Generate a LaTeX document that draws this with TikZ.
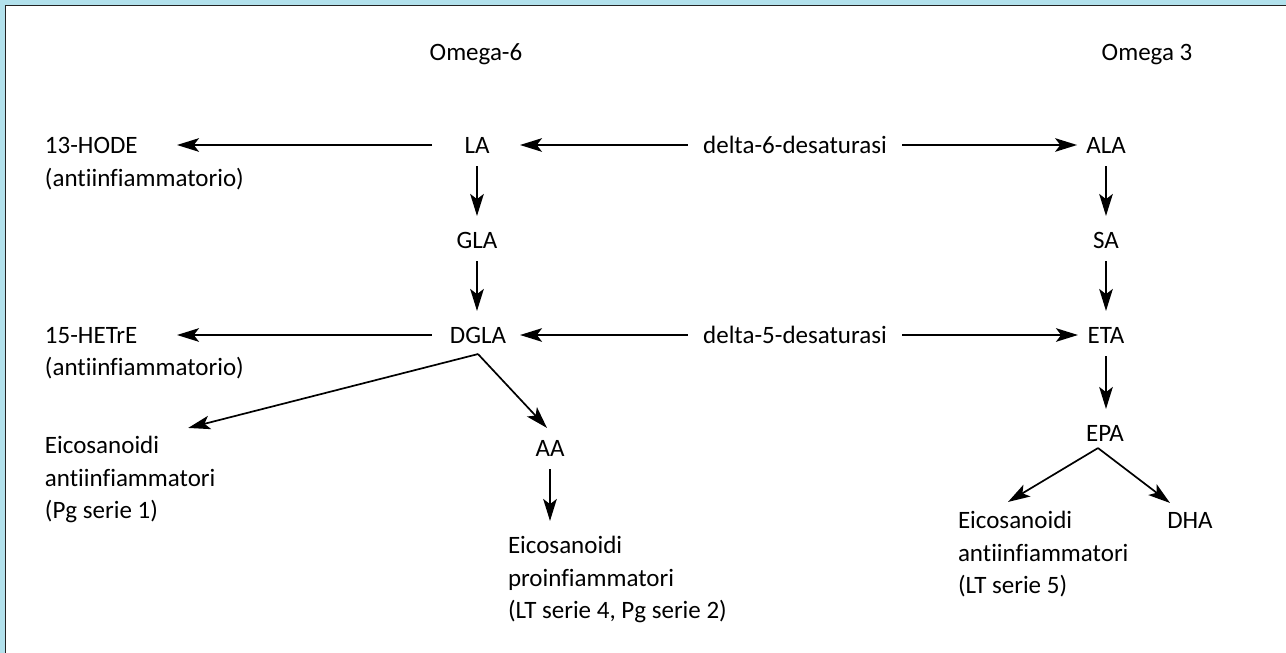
\documentclass[tikz,border=0pt]{standalone}
\usepackage{fontspec}
\setmainfont{Carlito}[Ligatures={NoCommon,NoRare,NoContextual}]
\usetikzlibrary{arrows.meta}
\definecolor{framebg}{RGB}{178,225,236}
\definecolor{framedark}{RGB}{34,34,34}
\begin{document}
\begin{tikzpicture}[x=0.5pt,y=-0.5pt,
  every node/.style={inner sep=0pt,outer sep=0pt,text height=8.05pt,text depth=0pt,font=\fontsize{12.5pt}{15pt}\selectfont},
  lbl/.style={anchor=center},
  lft/.style={anchor=west},
  arr/.style={line width=0.85pt,-{Stealth[length=11pt,width=6.8pt,inset=2.6pt]}},
  vshort/.style={shorten <=6.5pt,shorten >=8pt}]
\useasboundingbox (0,0) rectangle (1286,653);
\fill[white] (0,0) rectangle (1286,653);
\fill[framebg] (0,0) rectangle (1286,4.6);
\fill[framebg] (0,0) rectangle (4.6,653);
\draw[framedark,line width=0.9pt] (5.5,653) -- (5.5,5.5) -- (1286,5.5);

% headers
\node[lbl] (om6) at (476,52) {Omega-6};
\node[lbl] (om3) at (1147,52) {Omega 3};

% row 1
\node[lft] (hode) at (45,145) {13-HODE};
\node[lft] (hodeN) at (45,178) {(antiinfiammatorio)};
\node[lbl] (LA) at (477,145) {LA};
\node[lbl] (d6) at (795,145) {delta-6-desaturasi};
\node[lbl] (ALA) at (1106,145) {ALA};

% row 2
\node[lbl] (GLA) at (477,240) {GLA};
\node[lbl] (SA) at (1106,240) {SA};

% row 3
\node[lft] (hetre) at (45,335) {15-HETrE};
\node[lft] (hetreN) at (45,367) {(antiinfiammatorio)};
\node[lbl] (DGLA) at (478,335) {DGLA};
\node[lbl] (d5) at (795,335) {delta-5-desaturasi};
\node[lbl] (ETA) at (1106,335) {ETA};

% lower left
\node[lft] (eL1) at (45,445) {Eicosanoidi};
\node[lft] (eL2) at (45,478) {antiinfiammatori};
\node[lft] (eL3) at (45,510) {(Pg serie 1)};

% middle
\node[lbl] (AA) at (550,448) {AA};
\node[lft] (eM1) at (508,545) {Eicosanoidi};
\node[lft] (eM2) at (508,578) {proinfiammatori};
\node[lft] (eM3) at (508,610) {(LT serie 4, Pg serie 2)};

% right
\node[lbl] (EPA) at (1105,433) {EPA};
\node[lft] (eR1) at (958,520) {Eicosanoidi};
\node[lft] (eR2) at (958,553) {antiinfiammatori};
\node[lft] (eR3) at (958,585) {(LT serie 5)};
\node[lbl] (DHA) at (1190,520) {DHA};

% horizontal connectors
\draw[arr] ([xshift=-16.25pt]LA.west) -- ([xshift=66pt]hode.west);
\draw[arr] ([xshift=-7.75pt]d6.west) -- ([xshift=15.25pt]LA.east);
\draw[arr] ([xshift=7.75pt]d6.east) -- ([xshift=-4.6pt]ALA.west);
\draw[arr] ([xshift=-9pt]DGLA.west) -- ([xshift=66pt]hetre.west);
\draw[arr] ([xshift=-7.75pt]d5.west) -- ([xshift=7pt]DGLA.east);
\draw[arr] ([xshift=7.75pt]d5.east) -- ([xshift=-4.8pt]ETA.west);

% vertical connectors
\draw[arr,vshort] (LA.south) -- (LA.south |- GLA.north);
\draw[arr,vshort] (GLA.south) -- (GLA.south |- DGLA.north);
\draw[arr,vshort] (ALA.south) -- (ALA.south |- SA.north);
\draw[arr,vshort] (SA.south) -- (SA.south |- ETA.north);
\draw[arr,vshort] (ETA.south) -- (ETA.south |- EPA.north);
\draw[arr,vshort] (AA.south) -- (AA.south |- eM1.north);

% branches
\coordinate (dv) at ([yshift=-5.5pt]DGLA.south);
\draw[arr] (dv) -- ([xshift=14.5pt,yshift=4.5pt]eL1.north east);
\draw[arr] (dv) -- ([xshift=-1.5pt,yshift=6pt]AA.north);
\coordinate (ev) at ([xshift=-3.5pt,yshift=-3.5pt]EPA.south);
\draw[arr] (ev) -- ([xshift=25pt,yshift=5pt]eR1.north west);
\draw[arr] (ev) -- ([xshift=-10pt,yshift=4.5pt]DHA.north);
\end{tikzpicture}
\end{document}
